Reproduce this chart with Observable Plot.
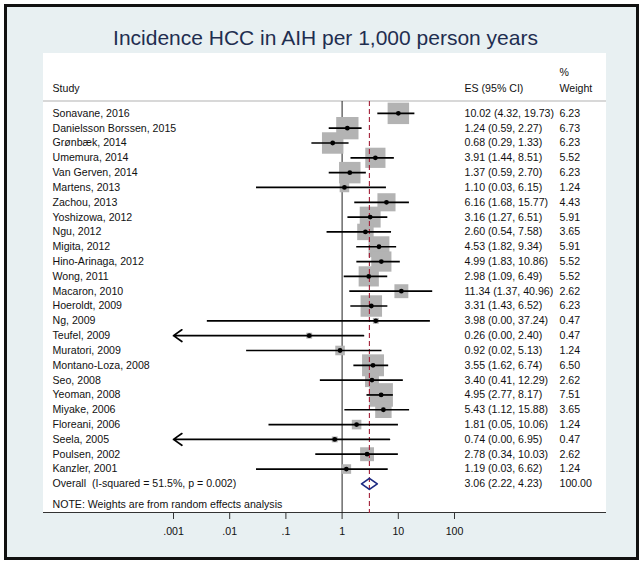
<!DOCTYPE html>
<html>
<head>
<meta charset="utf-8">
<script src="https://cdn.jsdelivr.net/npm/d3@7"></script>
<script src="https://cdn.jsdelivr.net/npm/@observablehq/plot@0.6"></script>
<style>
  html, body { margin: 0; padding: 0; background: #ffffff; }
  #wrap { position: relative; width: 644px; height: 569px; overflow: hidden; font-family: "Liberation Sans", Arial, Helvetica, sans-serif; }
  #frame { position: absolute; left: 4px; top: 4px; width: 629px; height: 550px; border: 3px solid #111; background: #e8f0f2; }
  #panel { position: absolute; left: 43px; top: 53px; width: 563px; height: 459px; background: #ffffff; border-bottom: 1px solid #333; }
  #hline { position: absolute; left: 43px; top: 100px; width: 563px; height: 2px; background: #d8d8d8; }
  #title { position: absolute; left: 4px; width: 643px; top: 27px; text-align: center; font-size: 21px; line-height: 21px; color: #1f2e50; white-space: nowrap; }
  #chart { position: absolute; left: 0; top: 0; }
</style>
</head>
<body>
<div id="wrap">
  <div id="frame"></div>
  <div id="panel"></div>
  <div id="hline"></div>
  <div id="title">Incidence HCC in AIH per 1,000 person years</div>
  <div id="chart"></div>
</div>
<script>
// ---- data ----
const studies = [
  "Sonavane, 2016", "Danielsson Borssen, 2015", "Grønbæk, 2014", "Umemura, 2014",
  "Van Gerven, 2014", "Martens, 2013", "Zachou, 2013", "Yoshizowa, 2012", "Ngu, 2012",
  "Migita, 2012", "Hino-Arinaga, 2012", "Wong, 2011", "Macaron, 2010", "Hoeroldt, 2009",
  "Ng, 2009", "Teufel, 2009", "Muratori, 2009", "Montano-Loza, 2008", "Seo, 2008",
  "Yeoman, 2008", "Miyake, 2006", "Floreani, 2006", "Seela, 2005", "Poulsen, 2002",
  "Kanzler, 2001"
];
const estimates = [10.02, 1.24, 0.68, 3.91, 1.37, 1.10, 6.16, 3.16, 2.60, 4.53, 4.99, 2.98, 11.34, 3.31, 3.98, 0.26, 0.92, 3.55, 3.40, 4.95, 5.43, 1.81, 0.74, 2.78, 1.19];
// lower bounds shown as "0.00" are estimated from where the line starts (or below the axis for arrows)
const ciLow = [4.32, 0.59, 0.29, 1.44, 0.59, 0.03, 1.68, 1.27, 0.54, 1.82, 1.83, 1.09, 1.37, 1.43, 0.004, 0.0004, 0.02, 1.62, 0.41, 2.77, 1.12, 0.05, 0.0004, 0.34, 0.03];
const ciHigh = [19.73, 2.27, 1.33, 8.51, 2.70, 6.15, 15.77, 6.51, 7.58, 9.34, 10.86, 6.49, 40.96, 6.52, 37.24, 2.40, 5.13, 6.74, 12.29, 8.17, 15.88, 10.06, 6.95, 10.03, 6.62];
const weights = [6.23, 6.73, 6.23, 5.52, 6.23, 1.24, 4.43, 5.91, 3.65, 5.91, 5.52, 5.52, 2.62, 6.23, 0.47, 0.47, 1.24, 6.50, 2.62, 7.51, 3.65, 1.24, 0.47, 2.62, 1.24];
const overallLabel = "Overall\u00a0 (I-squared = 51.5%, p = 0.002)";
const overallES = 3.06, overallLow = 2.22, overallHigh = 4.23, overallWeight = 100.00;
const noteText = "NOTE: Weights are from random effects analysis";
const xTicks = [0.001, 0.01, 0.1, 1, 10, 100];
const xTickLabels = [".001", ".01", ".1", "1", "10", "100"];
const headers = { study: "Study", es: "ES (95% CI)", pct: "%", weight: "Weight" };

// ---- build table ----
const xMin = xTicks[0], xMax = xTicks[xTicks.length - 1];
const rows = studies.map((s, i) => ({
  i, study: s, es: estimates[i], lo: ciLow[i], hi: ciHigh[i], w: weights[i],
  clipped: ciLow[i] < xMin,
  esText: `${estimates[i].toFixed(2)} (${ciLow[i].toFixed(2)}, ${ciHigh[i].toFixed(2)})`,
  wText: weights[i].toFixed(2)
}));
const overallRow = {
  i: studies.length, study: overallLabel,
  esText: `${overallES.toFixed(2)} (${overallLow.toFixed(2)}, ${overallHigh.toFixed(2)})`,
  wText: overallWeight.toFixed(2)
};
const textRows = [...rows, overallRow];
const dh = 0.37; // half-height of diamond in row units
const diamond = [
  {x: overallLow, y: overallRow.i}, {x: overallES, y: overallRow.i - dh},
  {x: overallHigh, y: overallRow.i}, {x: overallES, y: overallRow.i + dh},
  {x: overallLow, y: overallRow.i}
];
const maxW = d3.max(weights);
const sidePerSqrtW = 8.6;
const font = "'Liberation Sans', Arial, Helvetica, sans-serif";

const chart = Plot.plot({
  width: 644,
  height: 569,
  marginLeft: 173,
  marginRight: 190,
  marginTop: 101,
  marginBottom: 56,
  style: { background: "transparent", fontFamily: font, fontSize: "10.6px", color: "#111", overflow: "visible" },
  x: { type: "log", domain: [xMin, xMax] },
  y: { domain: [-0.8, studies.length + 2], reverse: true, axis: null },
  r: { type: "sqrt", domain: [0, maxW], range: [0, sidePerSqrtW * Math.sqrt(maxW) / Math.sqrt(Math.PI)] },
  marks: [
    Plot.ruleX([1], { stroke: "#222", strokeWidth: 1 }),
    Plot.dot(rows, { x: "es", y: "i", r: "w", symbol: "square", fill: "#b3b3b3", stroke: "none" }),
    Plot.ruleX([overallES], { stroke: "#a32038", strokeWidth: 1.1, strokeDasharray: "5,3" }),
    Plot.ruleY(rows.filter(d => !d.clipped), { y: "i", x1: "lo", x2: "hi", stroke: "#000", strokeWidth: 1.7 }),
    Plot.arrow(rows.filter(d => d.clipped), { y1: "i", y2: "i", x1: "hi", x2: () => xMin, stroke: "#000", strokeWidth: 1.7, headLength: 9, headAngle: 70 }),
    Plot.dot(rows, { x: "es", y: "i", r: 2.4, fill: "#000", stroke: "none" }),
    Plot.line(diamond, { x: "x", y: "y", stroke: "#1c2a82", strokeWidth: 1.7 }),
    // table text
    Plot.text(textRows, { y: "i", text: "study", frameAnchor: "left", dx: -121, textAnchor: "start", fill: "#111" }),
    Plot.text(textRows, { y: "i", text: "esText", frameAnchor: "right", dx: 10, textAnchor: "start", fill: "#111" }),
    Plot.text(textRows, { y: "i", text: "wText", frameAnchor: "right", dx: 105, textAnchor: "start", fill: "#111" }),
    // headers
    Plot.text([headers.study], { text: d => d, frameAnchor: "top-left", dx: -121, dy: -17, textAnchor: "start", fill: "#111" }),
    Plot.text([headers.es], { text: d => d, frameAnchor: "top-right", dx: 10, dy: -17, textAnchor: "start", fill: "#111" }),
    Plot.text([headers.pct], { text: d => d, frameAnchor: "top-right", dx: 105, dy: -33, textAnchor: "start", fill: "#111" }),
    Plot.text([headers.weight], { text: d => d, frameAnchor: "top-right", dx: 105, dy: -17, textAnchor: "start", fill: "#111" }),
    Plot.text([noteText], { text: d => d, frameAnchor: "bottom-left", dx: -121, dy: -6, textAnchor: "start", fill: "#111" }),
    // axis
    Plot.axisX({ ticks: xTicks, tickFormat: d => xTickLabels[xTicks.indexOf(d)], tickSize: 6, tickPadding: 8, stroke: "#333", fill: "#111", label: null })
  ]
});
document.getElementById("chart").appendChild(chart);
</script>
</body>
</html>
